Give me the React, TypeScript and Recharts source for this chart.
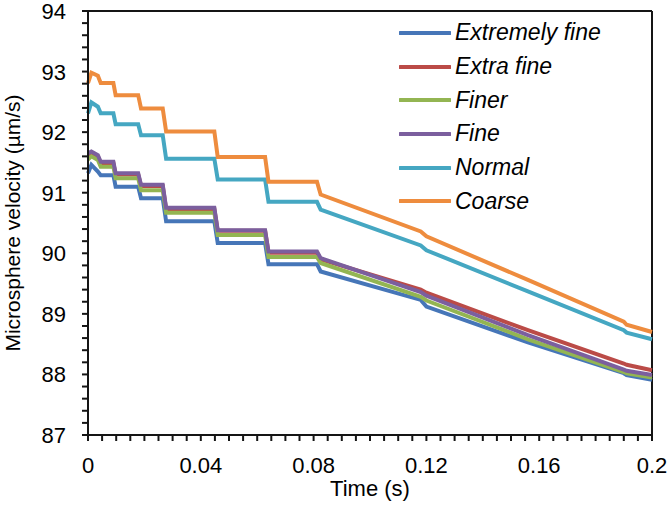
import React from 'react';
import { LineChart, Line, XAxis, YAxis, ReferenceLine } from 'recharts';

const TIME = [0, 0.0012, 0.0035, 0.0045, 0.009, 0.0098, 0.0178, 0.0188, 0.0265, 0.0277, 0.0448, 0.046, 0.0628, 0.064, 0.0812, 0.0825, 0.118, 0.12, 0.156, 0.19, 0.191, 0.2];

const EXTREMELY_FINE = [91.32, 91.46, 91.35, 91.29, 91.29, 91.1, 91.1, 90.91, 90.91, 90.53, 90.53, 90.17, 90.17, 89.82, 89.82, 89.7, 89.23, 89.12, 88.53, 88.02, 87.99, 87.91];
const EXTRA_FINE = [91.62, 91.66, 91.6, 91.49, 91.49, 91.3, 91.3, 91.11, 91.11, 90.73, 90.73, 90.37, 90.37, 90.01, 90.01, 89.9, 89.4, 89.35, 88.73, 88.18, 88.16, 88.07];
const FINER = [91.55, 91.6, 91.54, 91.43, 91.43, 91.24, 91.24, 91.04, 91.04, 90.67, 90.67, 90.3, 90.3, 89.94, 89.94, 89.84, 89.28, 89.22, 88.58, 88.04, 88.02, 87.95];
const FINE = [91.65, 91.68, 91.62, 91.51, 91.51, 91.32, 91.32, 91.13, 91.13, 90.75, 90.75, 90.38, 90.38, 90.03, 90.03, 89.92, 89.36, 89.3, 88.65, 88.08, 88.06, 87.99];
const NORMAL = [92.31, 92.49, 92.42, 92.31, 92.31, 92.13, 92.13, 91.95, 91.95, 91.56, 91.56, 91.22, 91.22, 90.85, 90.85, 90.72, 90.13, 90.05, 89.37, 88.73, 88.69, 88.58];
const COARSE = [92.81, 92.98, 92.93, 92.81, 92.81, 92.61, 92.61, 92.39, 92.39, 92.01, 92.01, 91.59, 91.59, 91.18, 91.18, 90.97, 90.36, 90.28, 89.56, 88.87, 88.82, 88.7];

const X_MAJOR = [0, 0.04, 0.08, 0.12, 0.16, 0.2];
const X_LABELS = ['0', '0.04', '0.08', '0.12', '0.16', '0.2'];
const Y_MAJOR = [87, 88, 89, 90, 91, 92, 93, 94];

const SERIES = [
  { key: 'extremelyFine', name: 'Extremely fine', color: '#4676B8', values: EXTREMELY_FINE },
  { key: 'extraFine', name: 'Extra fine', color: '#BB4B47', values: EXTRA_FINE },
  { key: 'finer', name: 'Finer', color: '#93B552', values: FINER },
  { key: 'fine', name: 'Fine', color: '#7B5F9E', values: FINE },
  { key: 'normal', name: 'Normal', color: '#45A7C2', values: NORMAL },
  { key: 'coarse', name: 'Coarse', color: '#EE8C3E', values: COARSE },
];

const data = TIME.map((t, i) => {
  const row: Record<string, number> = { t };
  SERIES.forEach((s) => (row[s.key] = s.values[i]));
  return row;
});

// minor ticks every 0.005 s and every 0.2 um/s
const xTicks = Array.from({ length: 41 }, (_, i) => +(i * 0.005).toFixed(3));
const yTicks = Array.from({ length: 36 }, (_, i) => +(87 + i * 0.2).toFixed(1));

const FONT = '"Liberation Sans", Arial, sans-serif';
const INK = '#151515';

const XTick = (props: any) => {
  const { x, y, payload } = props;
  const idx = X_MAJOR.findIndex((m) => Math.abs(m - payload.value) < 1e-9);
  return (
    <g>
      <line x1={x} y1={y} x2={x} y2={y + 6} stroke={INK} strokeWidth={2} />
      {idx >= 0 && (
        <text x={x} y={y + 38} textAnchor="middle" fontSize={22} fontFamily={FONT} fill="#000">
          {X_LABELS[idx]}
        </text>
      )}
    </g>
  );
};

const YTick = (props: any) => {
  const { x, y, payload } = props;
  const major = Y_MAJOR.some((m) => Math.abs(m - payload.value) < 1e-9);
  return (
    <g>
      <line x1={x} y1={y} x2={x - 6} y2={y} stroke={INK} strokeWidth={2} />
      {major && (
        <text x={x - 22} y={y + 8} textAnchor="end" fontSize={22} fontFamily={FONT} fill="#000">
          {payload.value}
        </text>
      )}
    </g>
  );
};

const YLabel = () => (
  <text x={20} y={223} transform="rotate(-90, 20, 223)" textAnchor="middle" fontSize={21} fontFamily={FONT} fill="#000">
    Microsphere velocity (µm/s)
  </text>
);

const XLabel = () => (
  <text x={370} y={496} textAnchor="middle" fontSize={22} fontFamily={FONT} fill="#000">
    Time (s)
  </text>
);

const LegendBox = () => (
  <div style={{ position: 'absolute', top: 16, left: 399, width: 260, fontFamily: FONT }}>
    {SERIES.map((s) => (
      <div key={s.key} style={{ display: 'flex', alignItems: 'center', height: 33.7 }}>
        <svg width={52} height={6} style={{ display: 'block' }}>
          <line x1={1} y1={3} x2={51} y2={3} stroke={s.color} strokeWidth={4} strokeLinecap="round" />
        </svg>
        <span style={{ fontStyle: 'italic', fontSize: 23, marginLeft: 4, color: '#000', lineHeight: '33px' }}>
          {s.name}
        </span>
      </div>
    ))}
  </div>
);

export default function App() {
  return (
    <div style={{ position: 'absolute', left: 0, top: 0, width: 668, height: 506, background: '#fff', fontFamily: FONT }}>
      <LineChart width={668} height={506} data={data} margin={{ top: 11, right: 16, bottom: 0, left: 28 }}>
        <XAxis
          dataKey="t"
          type="number"
          domain={[0, 0.2]}
          ticks={xTicks}
          interval={0}
          height={71}
          tickSize={0}
          tickMargin={0}
          tickLine={false}
          axisLine={{ stroke: INK, strokeWidth: 2 }}
          tick={XTick}
          label={XLabel}
        />
        <YAxis
          type="number"
          domain={[87, 94]}
          ticks={yTicks}
          interval={0}
          width={60}
          tickSize={0}
          tickMargin={0}
          tickLine={false}
          axisLine={{ stroke: INK, strokeWidth: 2 }}
          tick={YTick}
          label={YLabel}
        />
        {/* top and right edges of the frame */}
        <ReferenceLine y={94} stroke={INK} strokeWidth={2} />
        <ReferenceLine x={0.2} stroke={INK} strokeWidth={2} />
        {SERIES.map((s) => (
          <Line
            key={s.key}
            type="linear"
            dataKey={s.key}
            name={s.name}
            stroke={s.color}
            strokeWidth={4}
            dot={false}
            activeDot={false}
            isAnimationActive={false}
          />
        ))}
      </LineChart>
      <LegendBox />
    </div>
  );
}
